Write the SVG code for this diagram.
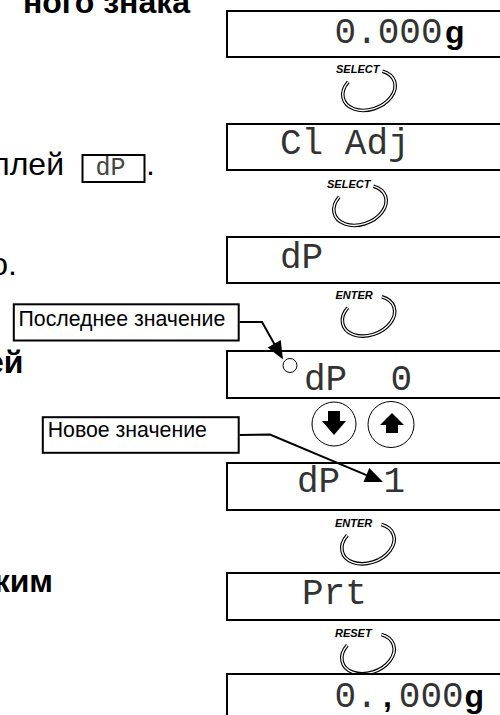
<svg xmlns="http://www.w3.org/2000/svg" width="500" height="715" viewBox="0 0 500 715">
<style>
.box{fill:#fff;stroke:#000;stroke-width:2}
.lcd{font-family:"Liberation Mono","Courier New",monospace;font-size:36px;fill:#333;white-space:pre}
.gb{font-family:"Liberation Sans",Arial,sans-serif;font-weight:bold;font-size:32px;fill:#000}
.body{font-family:"Liberation Sans",Arial,sans-serif;font-size:32px;fill:#000}
.bold{font-weight:bold}
.klabel{font-family:"Liberation Sans",Arial,sans-serif;font-weight:bold;font-style:italic;font-size:11px;fill:#000}
.call{font-family:"Liberation Sans",Arial,sans-serif;font-size:21.3px;fill:#000}
.arcO{fill:none;stroke:#000;stroke-width:3.6}
.arcI{fill:none;stroke:#fff;stroke-width:1.4}
.btn{fill:#fff;stroke:#000;stroke-width:1}
.leader{fill:none;stroke:#000;stroke-width:2}
.head{fill:#000;stroke:none}
</style>
<defs>
<g id="keyarc"><path class="arcO" d="M46.35,-2.16 A27,19 -20 1 1 12.26,8.61"/><path class="arcI" d="M46.35,-2.16 A27,19 -20 1 1 12.26,8.61"/></g>
</defs>

<g id="left-text">
<text class="body bold" x="190" y="12.5" text-anchor="end">ного знака</text>
<text class="body" x="64" y="175" text-anchor="end">ллей</text>
<rect x="82.5" y="155" width="62" height="27" fill="none" stroke="#000" stroke-width="2"/>
<text x="95.5" y="175" font-family="'Liberation Mono','Courier New',monospace" font-size="25" fill="#444">dP</text>
<text class="body" x="146" y="175">.</text>
<text class="body" x="17" y="275" text-anchor="end">о.</text>
<text class="body bold" x="23.5" y="373" text-anchor="end">ей</text>
<text class="body bold" x="53" y="592" text-anchor="end">ким</text>
</g>

<g id="disp1"><rect class="box" x="227" y="11" width="300" height="46"/><text class="lcd" x="334.5" y="43">0.000<tspan class="gb" x="445">g</tspan></text></g>
<g id="key1"><text class="klabel" x="336" y="73.3">SELECT</text><use href="#keyarc" transform="translate(336,73.3)"/></g>
<g id="disp2"><rect class="box" x="227" y="124" width="300" height="46"/><text class="lcd" x="280" y="154">Cl Adj</text></g>
<g id="key2"><text class="klabel" x="327" y="188.3">SELECT</text><use href="#keyarc" transform="translate(327,188.3)"/></g>
<g id="disp3"><rect class="box" x="227" y="237" width="300" height="46"/><text class="lcd" x="280" y="267.5">dP</text></g>
<g id="key3"><text class="klabel" x="335.5" y="299">ENTER</text><use href="#keyarc" transform="translate(335.5,299)"/></g>
<g id="disp4"><rect class="box" x="227" y="351" width="300" height="47"/><circle cx="290" cy="365.5" r="7" fill="none" stroke="#000" stroke-width="1"/><text class="lcd" x="304" y="390">dP  0</text></g>
<g id="btn-down"><circle class="btn" cx="334" cy="424" r="22"/><rect x="328" y="411" width="12" height="10.5" fill="#000"/><polygon points="322,421 346,421 334,435" fill="#000"/></g>
<g id="btn-up"><circle class="btn" cx="391" cy="424.5" r="23"/><polygon points="392,413 404,425 380,425" fill="#000"/><rect x="386" y="424.5" width="12" height="8.5" fill="#000"/></g>
<g id="disp5"><rect class="box" x="227" y="463" width="300" height="47"/><text class="lcd" x="297" y="492">dP  1</text></g>
<g id="key4"><text class="klabel" x="335" y="526.7">ENTER</text><use href="#keyarc" transform="translate(335,526.7)"/></g>
<g id="disp6"><rect class="box" x="227" y="573" width="300" height="47"/><text class="lcd" x="302" y="604">Prt</text></g>
<g id="key5"><text class="klabel" x="335" y="636.7">RESET</text><use href="#keyarc" transform="translate(335,636.7)"/></g>
<g id="disp7"><rect class="box" x="227" y="674" width="300" height="47"/><text class="lcd" x="334.5" y="706.5">0.<tspan class="gb" x="383">,</tspan><tspan x="398.8">000</tspan><tspan class="gb" x="464.5">g</tspan></text></g>

<g id="callout-last"><rect x="13.8" y="304.3" width="224.9" height="36.2" fill="#fff" stroke="#000" stroke-width="2"/><text class="call" x="18.5" y="325.5">Последнее значение</text></g>
<g id="callout-new"><rect x="42.8" y="417.2" width="195.9" height="35.6" fill="#fff" stroke="#000" stroke-width="2"/><text class="call" x="47.7" y="437">Новое значение</text></g>

<g id="connectors">
<path class="leader" d="M239.7,322 L262,322 L274.5,344.3"/>
<polygon class="head" points="283,359.5 267.7,347.5 280.7,340.1"/>
<path class="leader" d="M239.7,435 L270,434.5 L367,475.3"/>
<polygon class="head" points="383,482 363.5,481.9 369.3,468.1"/>
</g>
</svg>
